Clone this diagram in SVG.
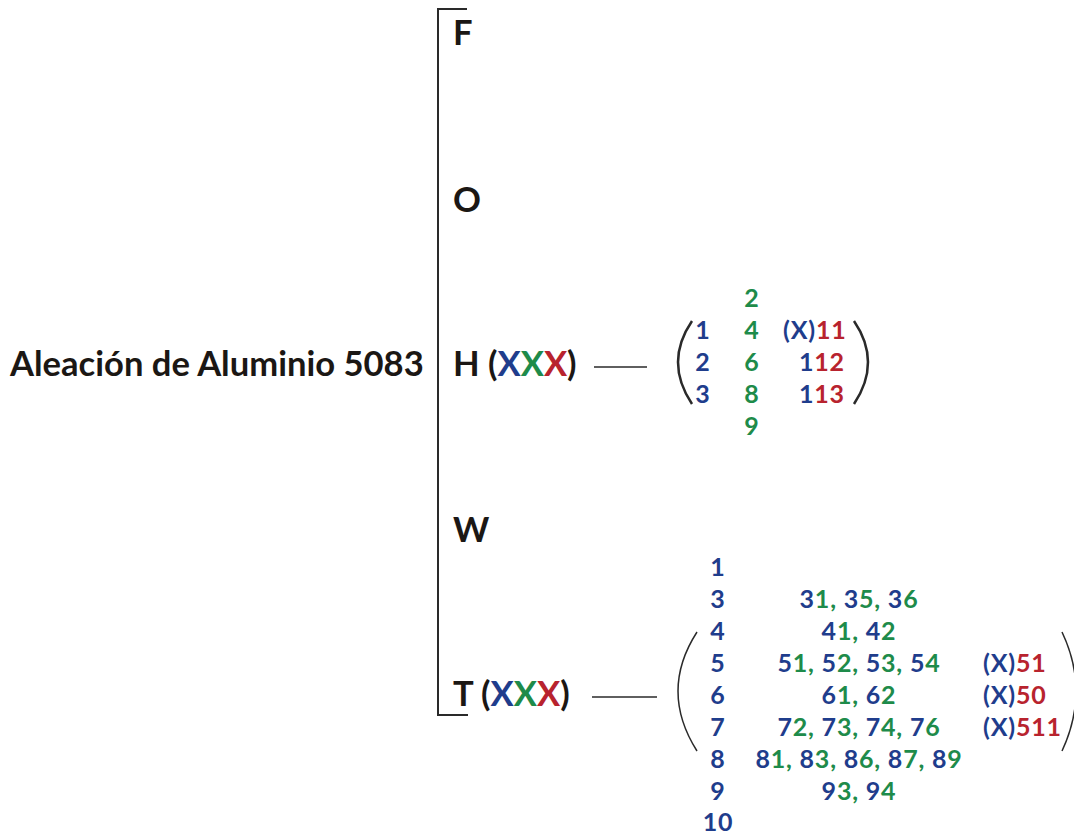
<svg xmlns="http://www.w3.org/2000/svg" width="1074" height="834" viewBox="0 0 1074 834">
<style>
text{font-family:Lato,"Noto Sans","Liberation Sans",sans-serif;font-weight:700}
.big{font-size:34.6px;fill:#1b1714}
.sm{font-size:25px;letter-spacing:0.8px}
.b{fill:#1f3d8c}
.g{fill:#1e8b4a}
.r{fill:#b8232e}
.k{fill:#1b1714}
.ln{stroke:#2a2a2a;fill:none}
</style>
<rect width="1074" height="834" fill="#ffffff"/>
<g id="root">
<text class="big" x="10" y="376">Aleación de Aluminio 5083</text>
</g>
<g id="connectors">
<path class="ln" stroke-width="2" d="M467 9H438V715H468"/>
<path class="ln" stroke-width="1.6" d="M594 367H647"/>
<path class="ln" stroke-width="1.6" d="M592 697H657"/>
</g>
<g id="node-F"><text class="big" x="453" y="45">F</text></g>
<g id="node-O"><text class="big" x="453" y="212">O</text></g>
<g id="node-H"><text class="big" x="453" y="376">H (<tspan class="b">X</tspan><tspan class="g">X</tspan><tspan class="r">X</tspan>)</text></g>
<g id="node-W"><text class="big" x="453" y="542">W</text></g>
<g id="node-T"><text class="big" x="453" y="706">T (<tspan class="b">X</tspan><tspan class="g">X</tspan><tspan class="r">X</tspan>)</text></g>
<g id="H-options">
<path class="ln" stroke-width="2.5" d="M692 321Q664 362 692 404"/>
<path class="ln" stroke-width="2.5" d="M854 321Q882 362 854 404"/>
<g text-anchor="middle">
<text class="b sm" x="703" y="339">1</text>
<text class="b sm" x="703" y="371">2</text>
<text class="b sm" x="703" y="403">3</text>
<text class="g sm" x="752" y="307">2</text>
<text class="g sm" x="752" y="339">4</text>
<text class="g sm" x="752" y="371">6</text>
<text class="g sm" x="752" y="403">8</text>
<text class="g sm" x="752" y="435">9</text>
</g>
<text class="sm" x="783" y="339"><tspan class="b">(X)</tspan><tspan class="r">11</tspan></text>
<text class="sm" x="799" y="371"><tspan class="b">1</tspan><tspan class="r">12</tspan></text>
<text class="sm" x="799" y="403"><tspan class="b">1</tspan><tspan class="r">13</tspan></text>
</g>
<g id="T-options">
<path class="ln" stroke-width="1.5" d="M697 632Q659 691 697 751"/>
<path class="ln" stroke-width="1.5" d="M1062 632Q1090 691 1062 751"/>
<g text-anchor="middle">
<text class="b sm" x="718" y="576">1</text>
<text class="b sm" x="718" y="608">3</text>
<text class="b sm" x="718" y="640">4</text>
<text class="b sm" x="718" y="672">5</text>
<text class="b sm" x="718" y="704">6</text>
<text class="b sm" x="718" y="736">7</text>
<text class="b sm" x="718" y="768">8</text>
<text class="b sm" x="718" y="800">9</text>
<text class="b sm" x="718" y="831">10</text>
<text class="sm" x="859" y="608"><tspan class="b">3</tspan><tspan class="g">1,</tspan><tspan class="b"> 3</tspan><tspan class="g">5,</tspan><tspan class="b"> 3</tspan><tspan class="g">6</tspan></text>
<text class="sm" x="859" y="640"><tspan class="b">4</tspan><tspan class="g">1,</tspan><tspan class="b"> 4</tspan><tspan class="g">2</tspan></text>
<text class="sm" x="859" y="672"><tspan class="b">5</tspan><tspan class="g">1,</tspan><tspan class="b"> 5</tspan><tspan class="g">2,</tspan><tspan class="b"> 5</tspan><tspan class="g">3,</tspan><tspan class="b"> 5</tspan><tspan class="g">4</tspan></text>
<text class="sm" x="859" y="704"><tspan class="b">6</tspan><tspan class="g">1,</tspan><tspan class="b"> 6</tspan><tspan class="g">2</tspan></text>
<text class="sm" x="859" y="736"><tspan class="b">7</tspan><tspan class="g">2,</tspan><tspan class="b"> 7</tspan><tspan class="g">3,</tspan><tspan class="b"> 7</tspan><tspan class="g">4,</tspan><tspan class="b"> 7</tspan><tspan class="g">6</tspan></text>
<text class="sm" x="859" y="768"><tspan class="b">8</tspan><tspan class="g">1,</tspan><tspan class="b"> 8</tspan><tspan class="g">3,</tspan><tspan class="b"> 8</tspan><tspan class="g">6,</tspan><tspan class="b"> 8</tspan><tspan class="g">7,</tspan><tspan class="b"> 8</tspan><tspan class="g">9</tspan></text>
<text class="sm" x="859" y="800"><tspan class="b">9</tspan><tspan class="g">3,</tspan><tspan class="b"> 9</tspan><tspan class="g">4</tspan></text>
</g>
<text class="sm" x="983" y="672"><tspan class="b">(X)</tspan><tspan class="r">51</tspan></text>
<text class="sm" x="983" y="704"><tspan class="b">(X)</tspan><tspan class="r">50</tspan></text>
<text class="sm" x="983" y="736"><tspan class="b">(X)</tspan><tspan class="r">511</tspan></text>
</g>
</svg>
